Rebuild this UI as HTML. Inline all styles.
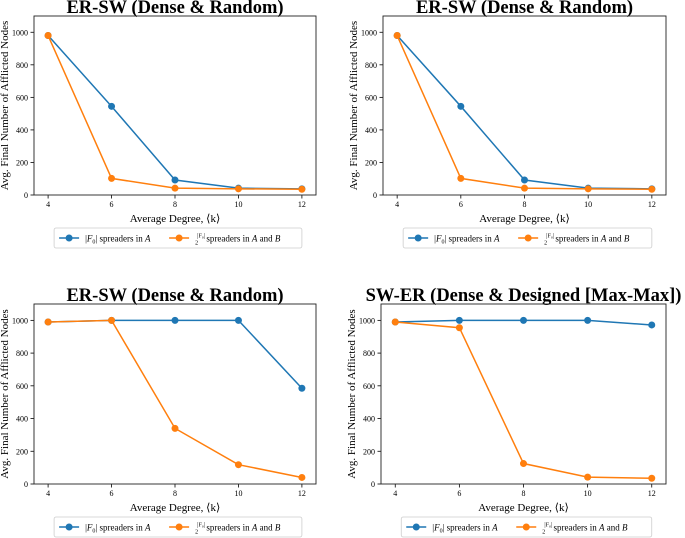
<!DOCTYPE html>
<html><head><meta charset="utf-8"><style>
html,body{margin:0;padding:0;background:#fff;width:685px;height:538px;overflow:hidden}
svg{display:block;font-family:"Liberation Serif",serif}
</style></head><body>
<svg id="fig" width="685" height="538" viewBox="0 0 685 538" xmlns="http://www.w3.org/2000/svg"></svg>
<script>
const categories = [4, 6, 8, 10, 12];
const yTicks = [0, 200, 400, 600, 800, 1000];
const tlBlue = [980, 545, 92, 42, 38];
const tlOrange = [980, 102, 42, 38, 35];
const trBlue = [980, 545, 92, 42, 38];
const trOrange = [980, 102, 42, 38, 35];
const blBlue = [990, 1000, 1000, 1000, 585];
const blOrange = [990, 1000, 340, 118, 40];
const brBlue = [990, 1000, 1000, 1000, 972];
const brOrange = [990, 955, 125, 42, 35];
const titles = ["ER-SW (Dense & Random)", "ER-SW (Dense & Random)", "ER-SW (Dense & Random)", "SW-ER (Dense & Designed [Max-Max])"];

const NS = "http://www.w3.org/2000/svg";
const fig = document.getElementById('fig');
function mk(tag, attrs, parent, text) {
  const e = document.createElementNS(NS, tag);
  for (const k in attrs) e.setAttribute(k, attrs[k]);
  if (text !== undefined) e.textContent = text;
  parent.appendChild(e);
  return e;
}
const BLUE = "#1f77b4", ORANGE = "#ff7f0e";
const panels = [
  {name: 'top-left', L: 34, R: 316, T: 16, B: 195, blue: tlBlue, orange: tlOrange},
  {name: 'top-right', L: 383, R: 666, T: 16, B: 195, blue: trBlue, orange: trOrange},
  {name: 'bottom-left', L: 34, R: 316, T: 304, B: 484, blue: blBlue, orange: blOrange},
  {name: 'bottom-right', L: 381, R: 666, T: 304, B: 484, blue: brBlue, orange: brOrange}
];
panels.forEach((p, i) => {
  const g = mk('g', {}, fig);
  
  
  const w = p.R - p.L;
  const xs = v => p.L + w * 0.05 + (v - 4) / 8 * w * 0.9;
  const ys = v => p.B - v / 1100 * (p.B - p.T);
  const cx = (p.L + p.R) / 2;
  const t = mk('text', {x: cx, y: p.T - 3, 'text-anchor': 'middle', 'font-size': 18.5, 'font-weight': 'bold'}, g, titles[i]);
  
  
  yTicks.forEach(v => {
    mk('line', {x1: p.L - 3.5, x2: p.L, y1: ys(v), y2: ys(v), stroke: '#000', 'stroke-width': 0.8}, g);
    const tl = mk('text', {x: p.L - 6, y: ys(v) + 3, 'text-anchor': 'end', 'font-size': 8}, g, v);
    
    
  });
  categories.forEach(c => {
    mk('line', {x1: xs(c), x2: xs(c), y1: p.B, y2: p.B + 3.5, stroke: '#000', 'stroke-width': 0.8}, g);
    const tl = mk('text', {x: xs(c), y: p.B + 12, 'text-anchor': 'middle', 'font-size': 8}, g, c);
    
    
  });
  const xl = mk('text', {x: cx, y: p.B + 27, 'text-anchor': 'middle', 'font-size': 11}, g, 'Average Degree, ⟨k⟩');
  
  
  const yc = (p.T + p.B) / 2;
  const yl = mk('text', {x: p.L - 26, y: yc, 'text-anchor': 'middle', 'font-size': 11, transform: `rotate(-90 ${p.L - 26} ${yc})`}, g, 'Avg. Final Number of Afflicted Nodes');
  
  
  [[p.blue, BLUE, 'blue'], [p.orange, ORANGE, 'orange']].forEach(([arr, col, nm]) => {
    const pts = arr.map((v, k) => xs(categories[k]) + ',' + ys(v)).join(' ');
    const pl = mk('polyline', {points: pts, fill: 'none', stroke: col, 'stroke-width': 1.5}, g);
    
    
    arr.forEach((v, k) => {
      const c = mk('circle', {cx: xs(categories[k]), cy: ys(v), r: 3.5, fill: col}, g);
      
      
    });
  });
  const frame = mk('rect', {x: p.L, y: p.T, width: w, height: p.B - p.T, fill: 'none', stroke: '#222', 'stroke-width': 0.9}, g);
  
  
  const lx = xs(4) + 6, ly = p.B + 33, lw = (xs(12) - xs(4)) - 6;
  const lg = mk('g', {}, g);
  
  
  mk('rect', {x: lx, y: ly, width: lw, height: 20, fill: '#fff', stroke: '#ccc', 'stroke-width': 0.8, rx: 2}, lg);
  mk('line', {x1: lx + 5, x2: lx + 25, y1: ly + 10, y2: ly + 10, stroke: BLUE, 'stroke-width': 1.5}, lg);
  mk('circle', {cx: lx + 15, cy: ly + 10, r: 3.5, fill: BLUE}, lg);
  const e1 = mk('text', {x: lx + 31, y: ly + 13.5, 'font-size': 9}, lg);
  
  
  e1.innerHTML = '|<tspan font-style="italic">F</tspan><tspan font-size="6" dy="2">0</tspan><tspan dy="-2">| spreaders in </tspan><tspan font-style="italic">A</tspan>';
  const ox = lx + 115;
  mk('line', {x1: ox, x2: ox + 20, y1: ly + 10, y2: ly + 10, stroke: ORANGE, 'stroke-width': 1.5}, lg);
  mk('circle', {cx: ox + 10, cy: ly + 10, r: 3.5, fill: ORANGE}, lg);
  const e2 = mk('text', {x: ox + 26, y: ly + 13.5, 'font-size': 9}, lg);
  
  
  e2.innerHTML = '<tspan font-size="6" dy="-4">|F₀|</tspan><tspan font-size="6" dx="-10" dy="7">2</tspan><tspan dx="6" dy="-3"> spreaders in </tspan><tspan font-style="italic">A</tspan> and <tspan font-style="italic">B</tspan>';
});
</script>
</body></html>
